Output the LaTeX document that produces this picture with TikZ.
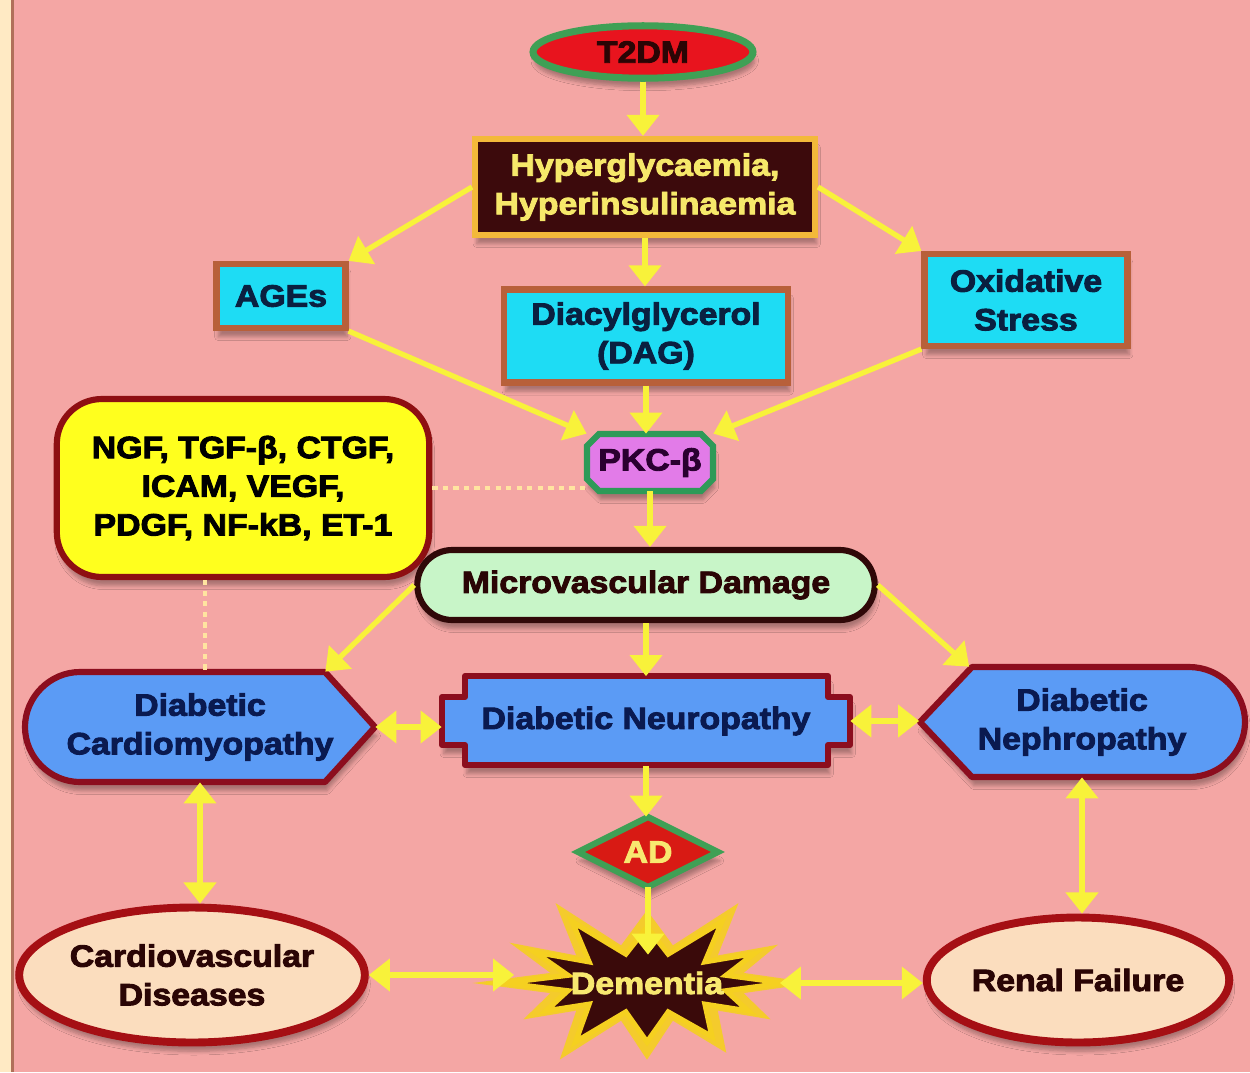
\documentclass[tikz,border=0pt]{standalone}
\usepackage{fontspec}
\setmainfont{Liberation Sans}[BoldFeatures={FakeBold=3,FakeStretch=1.1}]
\usetikzlibrary{arrows.meta,shapes.geometric,shapes.misc,calc,shadows.blur}
\definecolor{bgpink}{HTML}{F4A6A4}
\definecolor{cream}{HTML}{FFEAC4}
\definecolor{stripline}{HTML}{B0705A}
\definecolor{t2red}{HTML}{E8141E}
\definecolor{t2green}{HTML}{3FA055}
\definecolor{darktext}{HTML}{2A0505}
\definecolor{hyperfill}{HTML}{3C0A0C}
\definecolor{hyperborder}{HTML}{F3B93A}
\definecolor{hypertext}{HTML}{F6E86A}
\definecolor{cyanfill}{HTML}{1EDCF4}
\definecolor{cyanborder}{HTML}{B8603A}
\definecolor{navytext}{HTML}{0A2040}
\definecolor{pkcfill}{HTML}{E27BE8}
\definecolor{pkcborder}{HTML}{2E9A58}
\definecolor{pkctext}{HTML}{2A0030}
\definecolor{yboxfill}{HTML}{FFFF1E}
\definecolor{yboxborder}{HTML}{8E0F12}
\definecolor{microfill}{HTML}{C8F5C8}
\definecolor{microborder}{HTML}{300808}
\definecolor{bluefill}{HTML}{5B9BF5}
\definecolor{blueborder}{HTML}{8C0E1E}
\definecolor{bluetext}{HTML}{0A1A50}
\definecolor{adred}{HTML}{D81A14}
\definecolor{adtext}{HTML}{F8E870}
\definecolor{demfill}{HTML}{3A0A0A}
\definecolor{staryellow}{HTML}{F5D020}
\definecolor{peach}{HTML}{FBDDBE}
\definecolor{ellborder}{HTML}{A50F14}
\definecolor{arrowyellow}{HTML}{F8F23A}
\definecolor{dotcol}{HTML}{FFE4A0}
\begin{document}
\begin{tikzpicture}[x=0.02cm,y=-0.02cm,
  txt/.style={font=\bfseries\fontsize{17.5}{22}\selectfont, align=center, inner sep=0pt},
  shad/.style={blur shadow={shadow xshift=1pt, shadow yshift=-5pt, shadow blur steps=6, shadow opacity=30}},
  arr/.style={draw=arrowyellow, line width=3pt, -{Triangle[length=12pt,width=18pt]}},
  darr/.style={draw=arrowyellow, line width=3pt, {Triangle[length=12pt,width=18pt]}-{Triangle[length=12pt,width=18pt]}},
  dotline/.style={draw=dotcol, line width=2.5pt, dash pattern=on 3pt off 3pt},
  t2dmsh/.style={txt, shad, ellipse, fill=t2red, draw=t2green, line width=4pt, text=darktext, minimum width=4.4cm, minimum height=1.05cm},
  hypersh/.style={txt, shad, rectangle, fill=hyperfill, draw=hyperborder, line width=3.5pt, text=hypertext},
  cyanbox/.style={txt, shad, rectangle, fill=cyanfill, draw=cyanborder, line width=3.5pt, text=navytext},
  yboxsh/.style={txt, shad, rectangle, rounded corners=0.9cm, fill=yboxfill, draw=yboxborder, line width=3.5pt, text=black, minimum width=7.45cm, minimum height=3.56cm},
  microsh/.style={txt, shad, rounded rectangle, fill=microfill, draw=microborder, line width=3.5pt, text=darktext, minimum width=9.15cm, minimum height=1.4cm},
  bluesh/.style={shad, fill=bluefill, draw=blueborder, line width=3.5pt, line join=round},
  bluetxt/.style={txt, text=bluetext},
  ellsh/.style={txt, shad, ellipse, fill=peach, draw=ellborder, line width=4.5pt, text=darktext}]
\useasboundingbox (0,0) rectangle (1250,1072);
% background
\fill[bgpink] (0,0) rectangle (1250,1072);
\fill[cream] (0,0) rectangle (11,1072);
\fill[stripline] (11,0) rectangle (14,1072);

% top nodes
\node[t2dmsh] (t2dm) at (643,52) {T2DM};
\node[hypersh, minimum width=6.8cm, minimum height=1.92cm] (hyper) at (645,187) {Hyperglycaemia,\\Hyperinsulinaemia};
\node[cyanbox, minimum width=2.58cm, minimum height=1.28cm] (ages) at (281,296) {AGEs};
\node[cyanbox, minimum width=5.68cm, minimum height=1.86cm] (dag) at (646,336) {Diacylglycerol\\(DAG)};
\node[cyanbox, minimum width=4.06cm, minimum height=1.84cm] (ox) at (1026,300) {Oxidative\\Stress};
% PKC octagon
\path[shad, fill=pkcfill, draw=pkcborder, line width=3.5pt, line join=miter]
  (599,434) -- (701,434) -- (713,446) -- (713,479) -- (701,491) -- (599,491) -- (587,479) -- (587,446) -- cycle;
\node[txt, text=pkctext, minimum width=2.52cm, minimum height=1.14cm] (pkc) at (650,462.5) {PKC-β};
\node[yboxsh] (ybox) at (243,488) {NGF, TGF-β, CTGF,\\ICAM, VEGF,\\PDGF, NF-kB, ET-1};
\node[microsh] (micro) at (646,585) {Microvascular Damage};

% blue shapes
\path[bluesh] (325,672) -- (375,727) -- (325,782) -- (80,782)
  .. controls (50,782) and (25,757) .. (25,727)
  .. controls (25,697) and (50,672) .. (80,672) -- cycle;
\node[bluetxt, minimum width=7cm, minimum height=2.2cm] (cardio) at (200,727) {Diabetic\\Cardiomyopathy};
\path[bluesh] (465,676) -- (828,676) -- (828,697) -- (850,697) -- (850,745) -- (828,745) -- (828,765)
  -- (465,765) -- (465,745) -- (442,745) -- (442,697) -- (465,697) -- cycle;
\node[bluetxt, minimum width=8.16cm, minimum height=1.78cm] (neuro) at (646,721) {Diabetic Neuropathy};
\path[bluesh] (920,722) -- (972,667) -- (1189,667)
  .. controls (1220,667) and (1245,692) .. (1245,722)
  .. controls (1245,752) and (1220,777) .. (1189,777) -- (972,777) -- cycle;
\node[bluetxt, minimum width=6.5cm, minimum height=2.2cm] (nephro) at (1082,722) {Diabetic\\Nephropathy};

% AD diamond
\path[shad, fill=adred, draw=t2green, line width=3.5pt, line join=miter] (578,852) -- (648,817) -- (718,852) -- (648,887) -- cycle;
\node[txt, text=adtext, minimum width=2.8cm, minimum height=1.4cm] (ad) at (648,852) {AD};

% Dementia star
\begin{scope}[shift={(647,983)}]
\fill[staryellow, opacity=0.9] (0:{1.22*137} and {1.3*65})
  \foreach \a/\rx/\ry in {15/82/30,30/117/56,45/82/30,60/130/62,75/82/30,90/124/59,105/82/30,120/143/68,135/82/30,150/117/56,165/82/30,180/143/68,195/82/30,210/130/62,225/82/30,240/150/71,255/82/30,270/117/56,285/82/30,300/150/71,315/82/30,330/124/59,345/82/30}
  { -- (\a:{1.22*\rx} and {1.3*\ry}) } -- cycle;
\path[fill=demfill, draw=staryellow, line width=3pt, line join=miter] (0:{137} and {65})
  \foreach \a/\rx/\ry in {15/82/30,30/117/56,45/82/30,60/130/62,75/82/30,90/124/59,105/82/30,120/143/68,135/82/30,150/117/56,165/82/30,180/143/68,195/82/30,210/130/62,225/82/30,240/150/71,255/82/30,270/117/56,285/82/30,300/150/71,315/82/30,330/124/59,345/82/30}
  { -- (\a:{\rx} and {\ry}) } -- cycle;
\end{scope}
\node[txt, text=adtext, minimum width=5.3cm, minimum height=1.12cm] (dem) at (647,983) {Dementia};

% bottom ellipses
\node[ellsh, minimum width=6.8cm, minimum height=2.7cm] (cv) at (192,975) {Cardiovascular\\Diseases};
\node[ellsh, minimum width=6.05cm, minimum height=2.5cm] (renal) at (1078,980) {Renal Failure};

% connectors
\draw[arr] (t2dm.south) -- (t2dm.south |- hyper.north);
\draw[arr] (hyper.west) -- (ages.north east);
\draw[arr] (hyper.east) -- (ox.north west);
\draw[arr] (hyper.south) -- (hyper.south |- dag.north);
\draw[arr] (ages.south east) -- (pkc.north west);
\draw[arr] (dag.south) -- (dag.south |- pkc.north);
\draw[arr] (ox.south west) -- (pkc.north east);
\draw[arr] (pkc.south) -- (pkc.south |- micro.north);
\draw[arr] (micro.west) -- ($(cardio.north east)+(-50,0)$);
\draw[arr] (micro.east) -- ($(nephro.north west)+(50,0)$);
\draw[arr] (micro.south) -- (micro.south |- neuro.north);
\draw[darr] (cardio.east) -- (cardio.east -| neuro.west);
\draw[darr] (neuro.east) -- (neuro.east -| nephro.west);
\draw[arr] (neuro.south) -- (neuro.south |- ad.north);
\draw[arr] (ad.south) -- (ad.south |- dem.north);
\draw[darr] (cardio.south) -- (cardio.south |- cv.north);
\draw[darr] (nephro.south) -- (nephro.south |- renal.north);
\draw[darr] (cv.east) -- (cv.east -| dem.west);
\draw[darr] (dem.east) -- (dem.east -| renal.west);

% dotted links
\draw[dotline] (ybox.east) -- (ybox.east -| pkc.west);
\coordinate (dd) at ($(ybox.south)+(-38,0)$);
\draw[dotline] (dd) -- (dd |- cardio.north);
\end{tikzpicture}
\end{document}
